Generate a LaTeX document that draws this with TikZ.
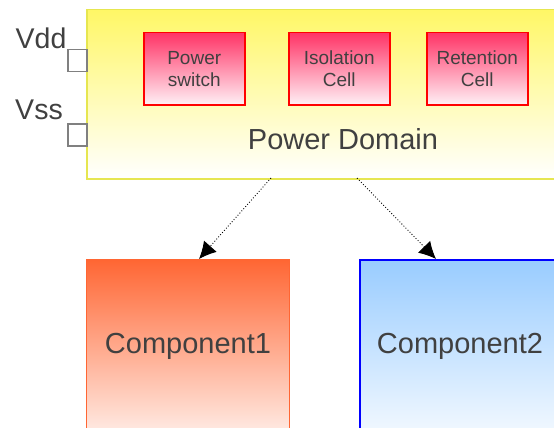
\documentclass[tikz,border=0pt]{standalone}
\usepackage{fontspec}
\setmainfont{Liberation Sans}
\usetikzlibrary{arrows.meta}
\definecolor{txt}{HTML}{404040}
\definecolor{pdborder}{HTML}{E6E650}
\definecolor{pdtop}{HTML}{FFF766}
\definecolor{celltop}{HTML}{FF3366}
\definecolor{cellbot}{HTML}{FFF0F5}
\definecolor{ctop}{HTML}{FF6633}
\definecolor{btop}{HTML}{99CCFF}
\definecolor{pin}{HTML}{808080}
\begin{document}
\begin{tikzpicture}[x=1pt,y=-1pt,
  cellbox/.style={draw=red, line width=1.5pt, top color=celltop, bottom color=cellbot, minimum width=101pt, minimum height=72pt, anchor=north west, inner sep=0pt, align=center, text=txt, font=\fontsize{19}{22}\selectfont},
  pinbox/.style={draw=pin, line width=1.5pt, fill=white, minimum width=19pt, minimum height=22pt, anchor=north west, inner sep=0pt},
  lbl/.style={text=txt, font=\fontsize{28.5}{32}\selectfont, inner sep=0pt},
  biglbl/.style={text=txt, font=\fontsize{29}{34}\selectfont, inner sep=0pt},
  conn/.style={dotted, line width=0.9pt, -{Latex[length=17pt,width=17pt]}}]
\useasboundingbox (0,0) rectangle (554,428);
\clip (0,0) rectangle (554,428);
% power domain
\node[draw=pdborder, line width=1.5pt, top color=pdtop, bottom color=white, minimum width=480pt, minimum height=169pt, anchor=north west, inner sep=0pt] (pd) at (86,9) {};
\node[biglbl] (pdl) at (343,139) {Power Domain};
\node[cellbox] (ps) at (143,32) {Power\\switch};
\node[cellbox] (ic) at (288,32) {Isolation\\Cell};
\node[cellbox] (rc) at (426,32) {Retention\\Cell};
% pins
\node[pinbox] (vddp) at (67,49) {};
\node[pinbox] (vssp) at (67,123) {};
\node[lbl] (vdd) at (41,38) {Vdd};
\node[lbl] (vss) at (39,110) {Vss};
% components
\node[draw=ctop, line width=1.2pt, top color=ctop, bottom color=white, minimum width=203pt, minimum height=200pt, anchor=north west, inner sep=0pt] (c1) at (86,259) {};
\node[draw=blue, line width=1.5pt, top color=btop, bottom color=white, minimum width=220pt, minimum height=200pt, anchor=north west, inner sep=0pt] (c2) at (359,259) {};
\node[biglbl] (c1l) at (188,346) {Component1};
\node[biglbl] (c2l) at (460,346) {Component2};
% connectors
\coordinate (a1) at (271,178);
\coordinate (b1) at (199,259);
\coordinate (a2) at (357,178);
\coordinate (b2) at (436,259);
\draw[conn] (a1) -- (b1);
\draw[conn] (a2) -- (b2);
\end{tikzpicture}
\end{document}
